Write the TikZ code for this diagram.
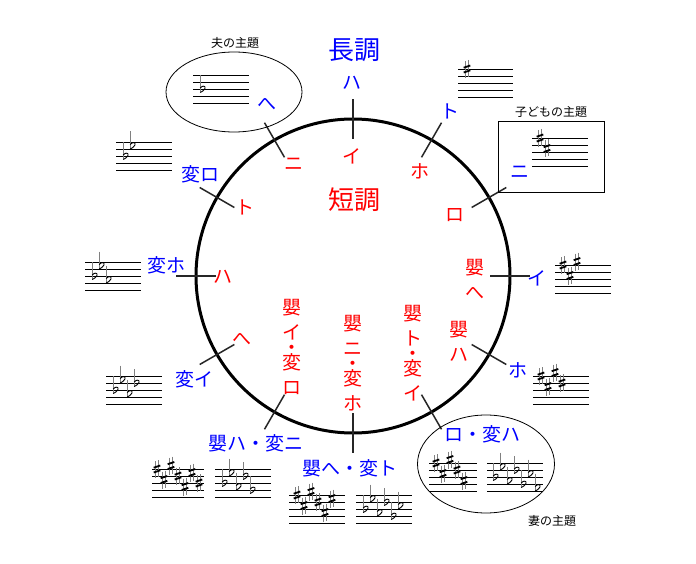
\documentclass[tikz,border=0pt]{standalone}
\usepackage{fontspec}
\newfontfamily\jp{Noto Sans CJK JP}
\newcommand\SharpSign[2]{%
  \begin{scope}[shift={({#1},{#2})}]
    \draw[black!50, line width=0.8pt] (-1.4,-8) -- (-1.4,9) (1.4,-9) -- (1.4,8);
    \draw[line width=1.8pt] (-3.3,-1.3) -- (3.3,-3.5) (-3.3,3.5) -- (3.3,1.3);
  \end{scope}}
\newcommand\FlatSign[2]{%
  \begin{scope}[shift={({#1},{#2})}]
    \draw[black!50, line width=0.8pt] (-1.8,-14) -- (-1.8,3.5);
    \draw[line width=0.9pt] (-1.8,-1) .. controls (0.5,-4) and (4,-3) .. (3,-0.5) .. controls (2,1.5) and (0,2.8) .. (-1.8,3.5);
  \end{scope}}
\newcommand\Staff[3]{%
  \foreach \k in {0,...,4}{\draw[line width=0.9pt] ({#1},{#2+7*\k}) -- ++(#3,0);}}
\newcommand\SharpKey[4]{%
  \foreach \p [count=\n] in {0,10.5,-3.5,7,17.5,3.5,14}{%
    \ifnum\n>#3\relax\else\SharpSign{#1+#4+7*(\n-1)}{#2+\p}\fi}}
\newcommand\FlatKey[4]{%
  \foreach \p [count=\n] in {14,3.5,17.5,7,21,10.5,24.5}{%
    \ifnum\n>#3\relax\else\FlatSign{#1+#4+7*(\n-1)}{#2+\p}\fi}}
\begin{document}
\begin{tikzpicture}[x=1pt,y=-1pt,
  major/.style={text=blue, font=\jp\fontsize{19}{25}\selectfont, inner sep=0pt},
  minor/.style={text=red, font=\jp\fontsize{19}{25}\selectfont, inner sep=0pt, align=center},
  keyname/.style={font=\jp\fontsize{26}{30}\selectfont, inner sep=0pt},
  title/.style={font=\jp\fontsize{12}{14}\selectfont, inner sep=0pt},
  tick/.style={line width=1.5pt, draw=black!85},
  frame/.style={line width=0.8pt}]
\useasboundingbox (0,0) rectangle (696,564);
\fill[white] (0,0) rectangle (696,564);
\coordinate (O) at (353,276);
\draw[line width=3pt] (O) circle[radius=157pt];
\foreach \a [count=\i] in {90,60,30,0,-30,-60,-90,-120,-150,180,150,120}{
  \coordinate (ti\i) at ([shift={(\a:137pt)}]O);
  \coordinate (to\i) at ([shift={(\a:177pt)}]O);
  \draw[tick] (ti\i) -- (to\i);
}
% centre labels
\node[keyname, text=blue] (major) at (354,50) {長調};
\node[keyname, text=red] (minor) at (354,200) {短調};
% major keys
\node[major] (mC) at (352,83) {ハ};
\node[major] (mG) at (450,111) {ト};
\node[major] (mD) at (520,172) {ニ};
\node[major] (mA) at (537,278) {イ};
\node[major] (mE) at (518,370) {ホ};
\node[major] (mB) at (482,434) {ロ・変ハ};
\node[major] (mFs) at (350,468) {嬰へ・変ト};
\node[major] (mCs) at (256,443) {嬰ハ・変ニ};
\node[major] (mAb) at (194,379) {変イ};
\node[major] (mEb) at (166,265) {変ホ};
\node[major] (mBb) at (200,174) {変ロ};
\node[major] (mF) at (267,104) {へ};
% minor keys
\node[minor] (na) at (352,156) {イ};
\node[minor] (ne) at (420,171) {ホ};
\node[minor] (nb) at (455,215) {ロ};
\node[minor] (nfs) at (475,279) {嬰\\へ};
\node[minor] (ncs) at (459,341) {嬰\\ハ};
\node[minor] (ngs) at (413,353.5) {嬰\\ト\\[-10pt]・\\[-10pt]変\\イ};
\node[minor] (nds) at (353,363.5) {嬰\\ニ\\[-10pt]・\\[-10pt]変\\ホ};
\node[minor] (nas) at (291.5,346.5) {嬰\\イ\\[-10pt]・\\[-10pt]変\\ロ};
\node[minor] (nf) at (241.5,339.5) {へ};
\node[minor] (nc) at (223,277) {ハ};
\node[minor] (ng) at (245,207) {ト};
\node[minor] (nd) at (294,164) {ニ};
% themes
\draw[frame] (234,92) ellipse[x radius=68pt, y radius=40pt];
\node[title] (husband) at (235,43) {夫の主題};
\draw[frame] (498,121) rectangle (604,192);
\node[title] (child) at (551,112) {子どもの主題};
\draw[frame] (486,464) ellipse[x radius=68.5pt, y radius=49pt];
\node[title] (wife) at (552,521) {妻の主題};
% staves and key signatures
\Staff{193}{75}{56} \FlatKey{193}{75}{1}{9}
\Staff{458}{69}{55} \SharpKey{458}{69}{1}{9}
\Staff{532}{138}{56} \SharpKey{532}{138}{2}{8}
\Staff{116}{142}{56} \FlatKey{116}{142}{2}{9}
\Staff{85}{262}{56} \FlatKey{85}{262}{3}{9}
\Staff{106}{376}{56} \FlatKey{106}{376}{4}{9}
\Staff{152}{469}{52} \SharpKey{152}{469}{7}{5}
\Staff{215}{469}{56} \FlatKey{215}{469}{5}{9}
\Staff{289}{495}{56} \SharpKey{289}{495}{6}{8}
\Staff{356}{495}{56} \FlatKey{356}{495}{6}{9}
\Staff{429}{463}{48} \SharpKey{429}{463}{5}{7}
\Staff{487}{463}{56} \FlatKey{487}{463}{7}{8}
\Staff{555}{265}{56} \SharpKey{555}{265}{3}{8}
\Staff{533}{376}{56} \SharpKey{533}{376}{4}{8}
\end{tikzpicture}
\end{document}
